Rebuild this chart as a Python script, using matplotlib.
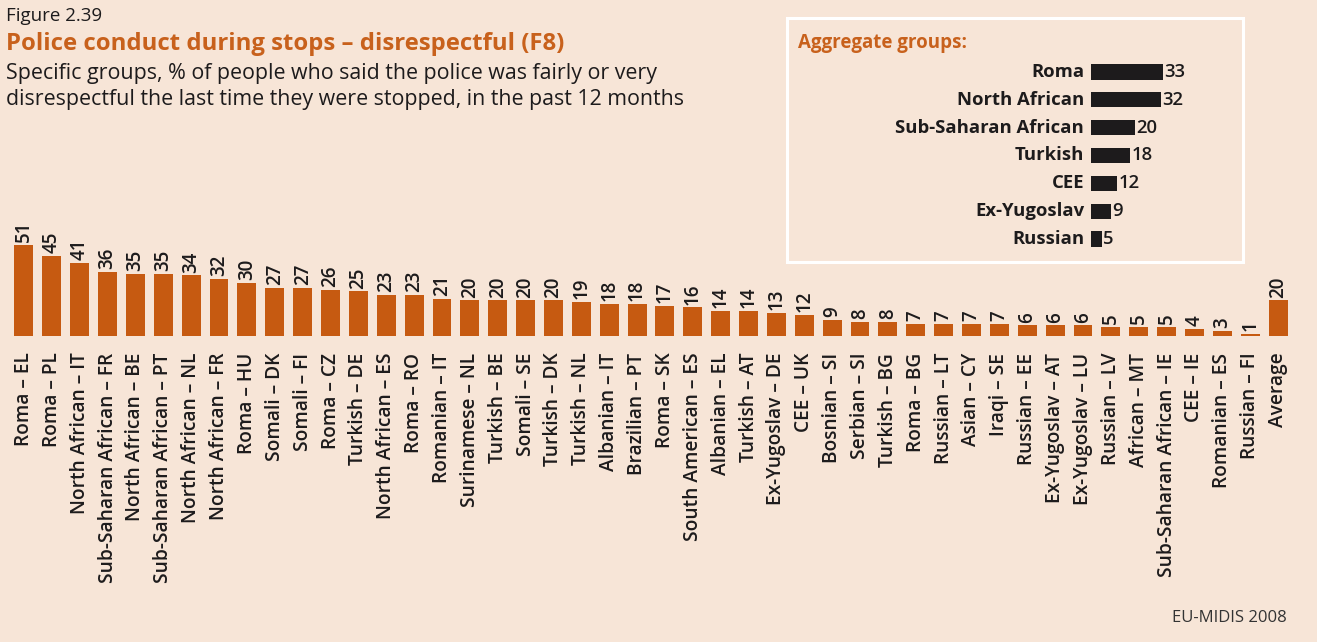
import matplotlib
matplotlib.use("Agg")
import matplotlib.pyplot as plt
from matplotlib.patches import Rectangle
import numpy as np

# Data: disrespectful police conduct during stops, by group and country
groups = [
    "Roma – EL", "Roma – PL", "North African – IT", "Sub-Saharan African – FR",
    "North African – BE", "Sub-Saharan African – PT", "North African – NL",
    "North African – FR", "Roma – HU", "Somali – DK", "Somali – FI", "Roma – CZ",
    "Turkish – DE", "North African – ES", "Roma – RO", "Romanian – IT",
    "Surinamese – NL", "Turkish – BE", "Somali – SE", "Turkish – DK",
    "Turkish – NL", "Albanian – IT", "Brazilian – PT", "Roma – SK",
    "South American – ES", "Albanian – EL", "Turkish – AT", "Ex-Yugoslav – DE",
    "CEE – UK", "Bosnian – SI", "Serbian – SI", "Turkish – BG", "Roma – BG",
    "Russian – LT", "Asian – CY", "Iraqi – SE", "Russian – EE",
    "Ex-Yugoslav – AT", "Ex-Yugoslav – LU", "Russian – LV", "African – MT",
    "Sub-Saharan African – IE", "CEE – IE", "Romanian – ES", "Russian – FI",
    "Average",
]
values = [51, 45, 41, 36, 35, 35, 34, 32, 30, 27, 27, 26, 25, 23, 23, 21,
          20, 20, 20, 20, 19, 18, 18, 17, 16, 14, 14, 13, 12, 9, 8, 8, 7,
          7, 7, 7, 6, 6, 6, 5, 5, 5, 4, 3, 1, 20]

agg_groups = ["Roma", "North African", "Sub-Saharan African", "Turkish",
              "CEE", "Ex-Yugoslav", "Russian"]
agg_values = [33, 32, 20, 18, 12, 9, 5]

BG = "#F7E5D7"
ORANGE = "#C65A11"
TITLE_ORANGE = "#C8611C"
DARK = "#1D1B1C"

plt.rcParams["font.family"] = ["Open Sans", "DejaVu Sans"]

W, H = 1317, 642
fig = plt.figure(figsize=(W / 100, H / 100), dpi=100, facecolor=BG)


def px_axes(left, top, right, bottom):
    return fig.add_axes([left / W, 1 - bottom / H, (right - left) / W, (bottom - top) / H])


# main bar chart
ax = px_axes(10, 229, 1292, 336)
ax.set_facecolor("none")
x = np.arange(len(values))
ax.bar(x, values, width=0.68, color=ORANGE)
ax.set_xlim(-0.5, len(values) - 0.5)
ax.set_ylim(0, 60)
for s in ax.spines.values():
    s.set_visible(False)
ax.set_yticks([])
ax.set_xticks(x)
ax.set_xticklabels(groups, rotation=90, fontsize=13.8, fontweight="semibold",
                   color=DARK, va="top", ha="center")
ax.tick_params(axis="x", length=0, pad=12)
for xi, v in zip(x, values):
    ax.annotate(str(v), (xi, v), xytext=(0, 2), textcoords="offset points",
                rotation=90, ha="center", va="bottom", fontsize=13.5,
                fontweight="semibold", color=DARK)

# titles
fig.text(6 / W, 1 - 16 / H, "Figure 2.39", fontsize=13.5, color=DARK, va="center")
fig.text(6 / W, 1 - 44 / H, "Police conduct during stops – disrespectful (F8)",
         fontsize=17.2, fontweight="bold", color=TITLE_ORANGE, va="center")
fig.text(6 / W, 1 - 74 / H, "Specific groups, % of people who said the police was fairly or very",
         fontsize=15.4, color=DARK, va="center")
fig.text(6 / W, 1 - 100 / H, "disrespectful the last time they were stopped, in the past 12 months",
         fontsize=15.4, color=DARK, va="center")

# aggregate groups box
fig.patches.append(Rectangle((787 / W, 1 - 262 / H), (1243 - 787) / W, (262 - 18) / H,
                             transform=fig.transFigure, facecolor="none",
                             edgecolor="white", linewidth=2.2))
fig.text(798 / W, 1 - 43 / H, "Aggregate groups:", fontsize=13.5, fontweight="bold",
         color=TITLE_ORANGE, va="center")

ax2 = px_axes(1091, 58, 1189, 253)
ax2.set_facecolor("none")
y = np.arange(len(agg_values))
ax2.barh(y, agg_values, height=0.55, color=DARK)
ax2.set_xlim(0, 45)
ax2.set_ylim(len(agg_values) - 0.5, -0.5)
ax2.axis("off")
for yi, name, v in zip(y, agg_groups, agg_values):
    ax2.annotate(name, (0, yi), xytext=(-5, 0), textcoords="offset points",
                 ha="right", va="center", fontsize=13.3, fontweight="bold", color=DARK)
    ax2.annotate(str(v), (v, yi), xytext=(1, 0), textcoords="offset points",
                 ha="left", va="center", fontsize=13.3, fontweight="semibold", color=DARK)

fig.text(1287 / W, 1 - 618 / H, "EU-MIDIS 2008", fontsize=12, color="#333333",
         ha="right", va="center")

fig.savefig("out.png", dpi=100, facecolor=BG)
